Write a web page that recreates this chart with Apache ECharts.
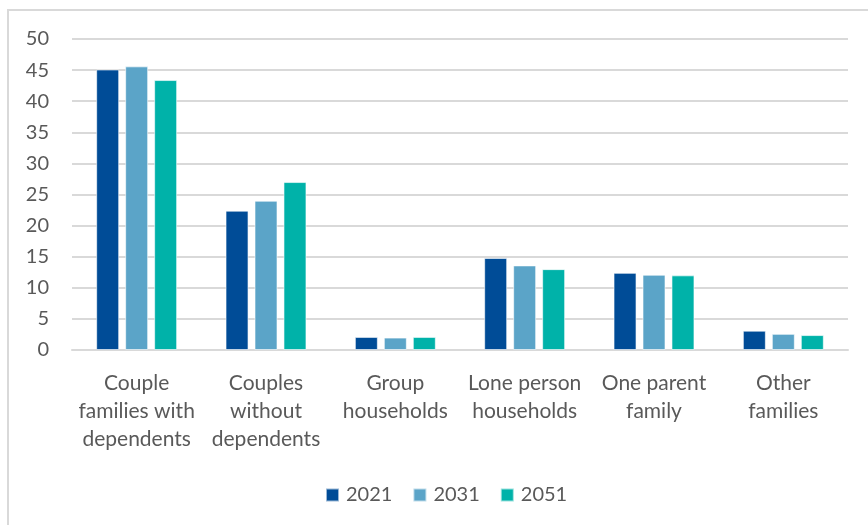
<!DOCTYPE html>
<html lang="en">
<head>
    <meta charset="utf-8">
    <title>Household types</title>
    <style>
        html, body { margin: 0; padding: 0; background: #fff; }
        #chart { width: 868px; height: 525px; }
    </style>
</head>
<body>
    <div id="chart"></div>
    <script src="https://cdn.jsdelivr.net/npm/echarts@6/dist/echarts.min.js"></script>
    <script type="text/javascript">
        // 数据
        var categories = ["Couple\nfamilies with\ndependents", "Couples\nwithout\ndependents", "Group\nhouseholds", "Lone person\nhouseholds", "One parent\nfamily", "Other\nfamilies"];
        var years = ["2021", "2031", "2051"];
        var values2021 = [45.1, 22.4, 2.1, 14.8, 12.4, 3.1];
        var values2031 = [45.6, 24.0, 2.0, 13.6, 12.1, 2.6];
        var values2051 = [43.4, 27.0, 2.1, 13.0, 12.0, 2.4];
        var colors = ["#004c97", "#5ba4c8", "#00b2a9"];

        var textColor = "#595959";
        var font = "Lato, 'Open Sans', sans-serif";

        var chart = echarts.init(document.getElementById("chart"));
        var seriesData = [values2021, values2031, values2051];
        var option = {
            backgroundColor: "#fff",
            animation: false,
            color: colors,
            grid: {
                left: 72,
                right: 20,
                top: 39,
                bottom: 175,
                containLabel: false
            },
            legend: {
                top: 480,
                left: 320,
                itemWidth: 13,
                itemHeight: 13,
                itemGap: 20,
                icon: "rect",
                textStyle: { color: textColor, fontSize: 20, fontFamily: font, padding: [0, 0, 0, 2] },
                data: years
            },
            xAxis: {
                type: "category",
                data: categories,
                axisLine: { show: true, lineStyle: { color: "#d9d9d9", width: 2 } },
                axisTick: { show: false },
                axisLabel: {
                    interval: 0,
                    color: textColor,
                    fontSize: 21,
                    fontFamily: font,
                    lineHeight: 28,
                    margin: 19
                }
            },
            yAxis: {
                type: "value",
                min: 0,
                max: 50,
                interval: 5,
                axisLine: { show: false },
                axisTick: { show: false },
                splitLine: { lineStyle: { color: "#d9d9d9", width: 2 } },
                axisLabel: { color: textColor, fontSize: 20, fontFamily: font, margin: 23 }
            },
            graphic: [
                { type: "line", shape: { x1: 7, y1: 10, x2: 868, y2: 10 }, style: { stroke: "#d9d9d9", lineWidth: 2 } },
                { type: "line", shape: { x1: 8, y1: 10, x2: 8, y2: 525 }, style: { stroke: "#d9d9d9", lineWidth: 2 } }
            ],
            series: years.map(function (y, i) {
                return {
                    name: y,
                    type: "bar",
                    barWidth: 23,
                    barGap: "26%",
                    itemStyle: { borderColor: "rgba(255,255,255,0.6)", borderWidth: 1 },
                    data: seriesData[i]
                };
            })
        };
        chart.setOption(option);
    </script>
</body>
</html>
